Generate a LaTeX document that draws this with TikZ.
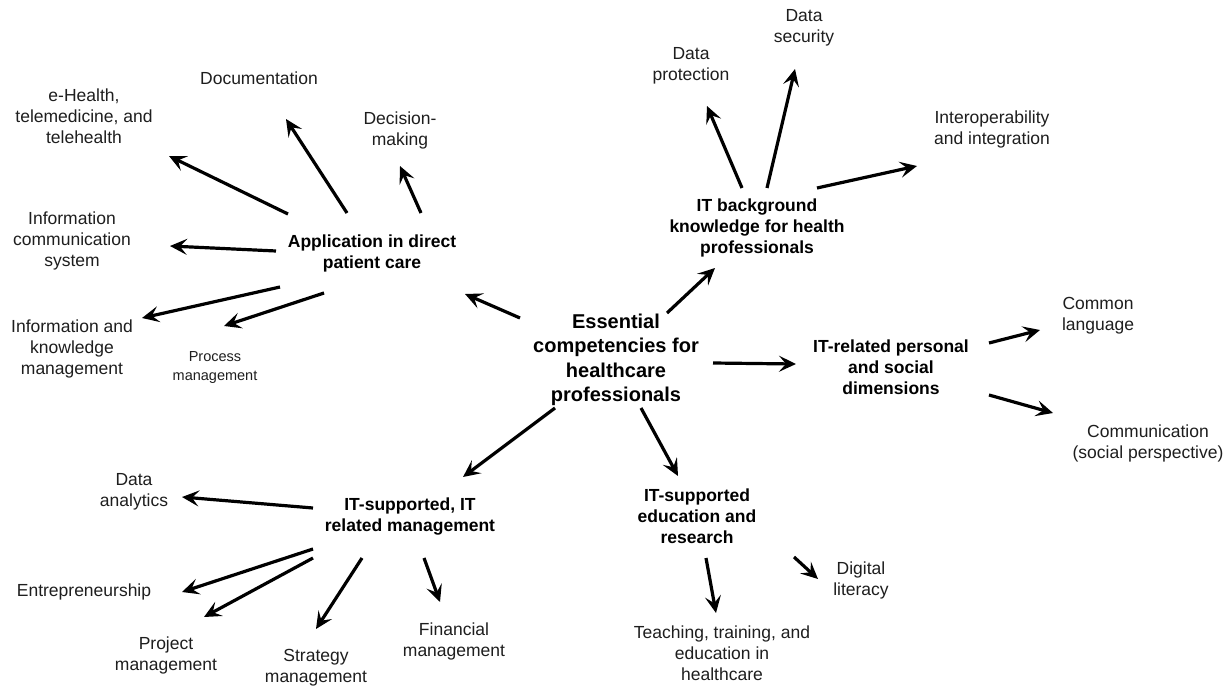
\documentclass[tikz,border=0pt]{standalone}
\usepackage{fontspec}
\setmainfont{Liberation Sans}
\usetikzlibrary{arrows.meta}
\definecolor{leafgray}{RGB}{30,30,30}
\tikzset{
  hub/.style={align=center, inner sep=0pt, font=\bfseries\fontsize{17.5}{21}\selectfont, text=black},
  core/.style={align=center, inner sep=0pt, font=\bfseries\fontsize{20}{24.5}\selectfont, text=black},
  leaf/.style={align=center, inner sep=0pt, font=\fontsize{17.5}{21}\selectfont, text=leafgray},
  smallleaf/.style={align=center, inner sep=0pt, font=\fontsize{14.5}{19}\selectfont, text=leafgray},
  arr/.style={line width=3.2pt, draw=black, -{Stealth[length=17pt,width=16pt,inset=7pt]}},
}
\begin{document}
\begin{tikzpicture}[x=1pt,y=-1pt]
\useasboundingbox[fill=white] (0,0) rectangle (1230,687);

% hubs
\node[core] (central) at (616,360) {Essential\\competencies for\\healthcare\\professionals};
\node[hub] (app) at (372,253) {Application in direct\\patient care};
\node[hub] (itbg) at (757,228) {IT background\\knowledge for health\\professionals};
\node[hub] (pers) at (891,367) {IT-related personal\\and social\\dimensions};
\node[hub] (mgmt) at (410,517) {IT-supported, IT\\related management};
\node[hub] (edu) at (697,516) {IT-supported\\education and\\research};

% leaves
\node[leaf] (doc) at (259,78) {Documentation};
\node[leaf] (ehealth) at (84,116) {e-Health,\\telemedicine, and\\telehealth};
\node[leaf] (decision) at (400,130) {Decision-\\making};
\node[leaf] (ics) at (72,241) {Information\\communication\\system};
\node[leaf] (ikm) at (72,349) {Information and\\knowledge\\management};
\node[smallleaf] (process) at (215,368) {Process\\management};
\node[leaf] (dprot) at (691,66) {Data\\protection};
\node[leaf] (dsec) at (804,28) {Data\\security};
\node[leaf] (interop) at (992,129) {Interoperability\\and integration};
\node[leaf] (common) at (1098,316) {Common\\language};
\node[leaf] (commun) at (1148,443) {Communication\\(social perspective)};
\node[leaf] (analytics) at (134,492) {Data\\analytics};
\node[leaf] (entre) at (84,592) {Entrepreneurship};
\node[leaf] (project) at (166,655) {Project\\management};
\node[leaf] (strategy) at (316,668) {Strategy\\management};
\node[leaf] (financial) at (454,641) {Financial\\management};
\node[leaf] (teaching) at (722,653) {Teaching, training, and\\education in\\healthcare};
\node[leaf] (digital) at (861,580) {Digital\\literacy};

% arrow end points
\coordinate (c-app-s) at (520,318);  \coordinate (c-app-e) at (465,294);
\coordinate (c-itbg-s) at (667,313); \coordinate (c-itbg-e) at (715,268);
\coordinate (c-pers-s) at (713,363); \coordinate (c-pers-e) at (796,364);
\coordinate (c-mgmt-s) at (555,408); \coordinate (c-mgmt-e) at (463,477);
\coordinate (c-edu-s) at (641,408);  \coordinate (c-edu-e) at (678,476);

\coordinate (app-eh-s) at (288,214); \coordinate (app-eh-e) at (169,156);
\coordinate (app-doc-s) at (347,213); \coordinate (app-doc-e) at (286,119);
\coordinate (app-dec-s) at (421,213); \coordinate (app-dec-e) at (400,166);
\coordinate (app-ics-s) at (276,251); \coordinate (app-ics-e) at (170,246);
\coordinate (app-ikm-s) at (280,287); \coordinate (app-ikm-e) at (142,318);
\coordinate (app-pro-s) at (324,293); \coordinate (app-pro-e) at (224,326);

\coordinate (bg-dp-s) at (742,188); \coordinate (bg-dp-e) at (707,106);
\coordinate (bg-ds-s) at (767,188); \coordinate (bg-ds-e) at (795,69);
\coordinate (bg-io-s) at (817,188); \coordinate (bg-io-e) at (917,166);

\coordinate (ps-cl-s) at (989,343); \coordinate (ps-cl-e) at (1040,330);
\coordinate (ps-cm-s) at (989,395); \coordinate (ps-cm-e) at (1053,413);

\coordinate (mg-da-s) at (313,508); \coordinate (mg-da-e) at (182,497);
\coordinate (mg-en-s) at (313,549); \coordinate (mg-en-e) at (182,592);
\coordinate (mg-pm-s) at (313,558); \coordinate (mg-pm-e) at (204,617);
\coordinate (mg-sm-s) at (362,558); \coordinate (mg-sm-e) at (316,629);
\coordinate (mg-fm-s) at (424,558); \coordinate (mg-fm-e) at (440,602);

\coordinate (ed-tt-s) at (706,558); \coordinate (ed-tt-e) at (716,613);
\coordinate (ed-dl-s) at (794,557); \coordinate (ed-dl-e) at (818,579);

% connectors
\foreach \a in {c-app,c-itbg,c-pers,c-mgmt,c-edu,app-eh,app-doc,app-dec,app-ics,app-ikm,app-pro,bg-dp,bg-ds,bg-io,ps-cl,ps-cm,mg-da,mg-en,mg-pm,mg-sm,mg-fm,ed-tt,ed-dl}
  \draw[arr] (\a-s) -- (\a-e);
\end{tikzpicture}
\end{document}
